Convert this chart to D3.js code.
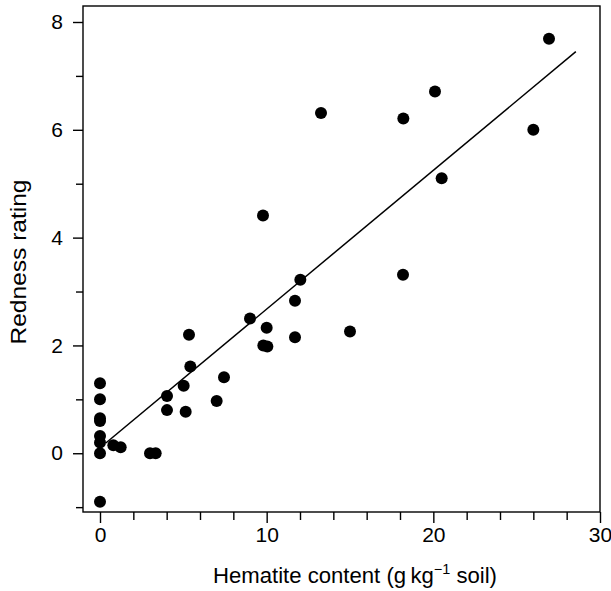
<!DOCTYPE html>
<html>
<head>
<meta charset="utf-8">
<script src="https://cdn.jsdelivr.net/npm/d3@7"></script>
<style>
  html, body { margin: 0; padding: 0; background: #fff; }
  svg text { font-family: "Liberation Sans", Arial, Helvetica, sans-serif; fill: #000; }
</style>
</head>
<body>
<svg id="chart" width="611" height="591"></svg>
<script>
// Data
const hematite = [0, 0, 0, 0, 0, 0, 0, 0, 0.8, 1.24, 3.0, 3.34, 4.02, 4.02, 5.02, 5.14, 5.34, 5.42,
                  7.0, 7.44, 9.0, 9.78, 9.8, 10.04, 10.0, 11.7, 11.7, 12.02, 13.26, 15.0, 18.18, 18.2,
                  20.1, 20.5, 26.0, 26.94];
const redness  = [1.30, 1.00, 0.65, 0.60, 0.32, 0.20, 0.00, -0.90, 0.15, 0.11, 0.00, 0.00, 1.06, 0.80, 1.25, 0.77, 2.20, 1.61,
                  0.97, 1.41, 2.50, 4.41, 2.00, 1.98, 2.33, 2.83, 2.15, 3.22, 6.31, 2.26, 3.31, 6.21,
                  6.71, 5.10, 6.00, 7.69];
const fitX = [0.35, 28.55];
const fitY = [0.19, 7.45];
const xMajorTicks = [0, 10, 20, 30];
const xMinorTicks = [2, 4, 6, 8, 12, 14, 16, 18, 22, 24, 26, 28];
const yMajorTicks = [0, 2, 4, 6, 8];
const yMinorTicks = [-1, 1, 3, 5, 7];

const svg = d3.select("#chart");
const L = 83, R = 600, T = 6, B = 512;

const x = d3.scaleLinear().domain([-1.02, 30]).range([L, R]);
const y = d3.scaleLinear().domain([-1.09, 8.0]).range([B, 22]);

const stroke = "#000";

// box
svg.append("rect").attr("x", L).attr("y", T).attr("width", R - L).attr("height", B - T)
  .attr("fill", "none").attr("stroke", stroke).attr("stroke-width", 1.4);

// x axis
const xAxisMajor = d3.axisBottom(x).tickValues(xMajorTicks).tickSize(11).tickPadding(4).tickFormat(d3.format("d"));
const gx = svg.append("g").attr("transform", `translate(0,${B})`).call(xAxisMajor);
const xAxisMinor = d3.axisBottom(x).tickValues(xMinorTicks).tickSize(8).tickFormat("");
const gx2 = svg.append("g").attr("transform", `translate(0,${B})`).call(xAxisMinor);

// y axis
const yAxisMajor = d3.axisLeft(y).tickValues(yMajorTicks).tickSize(10).tickPadding(10).tickFormat(d3.format("d"));
const gy = svg.append("g").attr("transform", `translate(${L},0)`).call(yAxisMajor);
const yAxisMinor = d3.axisLeft(y).tickValues(yMinorTicks).tickSize(7).tickFormat("");
const gy2 = svg.append("g").attr("transform", `translate(${L},0)`).call(yAxisMinor);

[gx, gx2, gy, gy2].forEach(g => {
  g.select(".domain").remove();
  g.selectAll(".tick line").attr("stroke", stroke).attr("stroke-width", 1.4);
  g.selectAll(".tick text").attr("font-size", 21).attr("fill", "#000")
    .style("font-family", '"Liberation Sans", Arial, Helvetica, sans-serif');
});

// fitted line
svg.append("path")
  .datum(d3.zip(fitX, fitY))
  .attr("fill", "none").attr("stroke", stroke).attr("stroke-width", 1.5)
  .attr("d", d3.line().x(d => x(d[0])).y(d => y(d[1])));

// points
svg.append("g").selectAll("circle")
  .data(d3.zip(hematite, redness))
  .join("circle")
  .attr("cx", d => x(d[0])).attr("cy", d => y(d[1])).attr("r", 6)
  .attr("fill", "#000");

// axis titles
const xt = svg.append("text").attr("x", 355).attr("y", 583).attr("text-anchor", "middle").attr("font-size", 21.5)
  .attr("textLength", 284).attr("lengthAdjust", "spacingAndGlyphs");
xt.append("tspan").text("Hematite content (g\u2009kg");
xt.append("tspan").attr("font-size", 14).attr("dy", -9).text("\u22121");
xt.append("tspan").attr("dy", 9).text(" soil)");

svg.append("text").attr("transform", "translate(26,262) rotate(-90)")
  .attr("text-anchor", "middle").attr("font-size", 22)
  .attr("textLength", 165).attr("lengthAdjust", "spacingAndGlyphs").text("Redness rating");
</script>
</body>
</html>
